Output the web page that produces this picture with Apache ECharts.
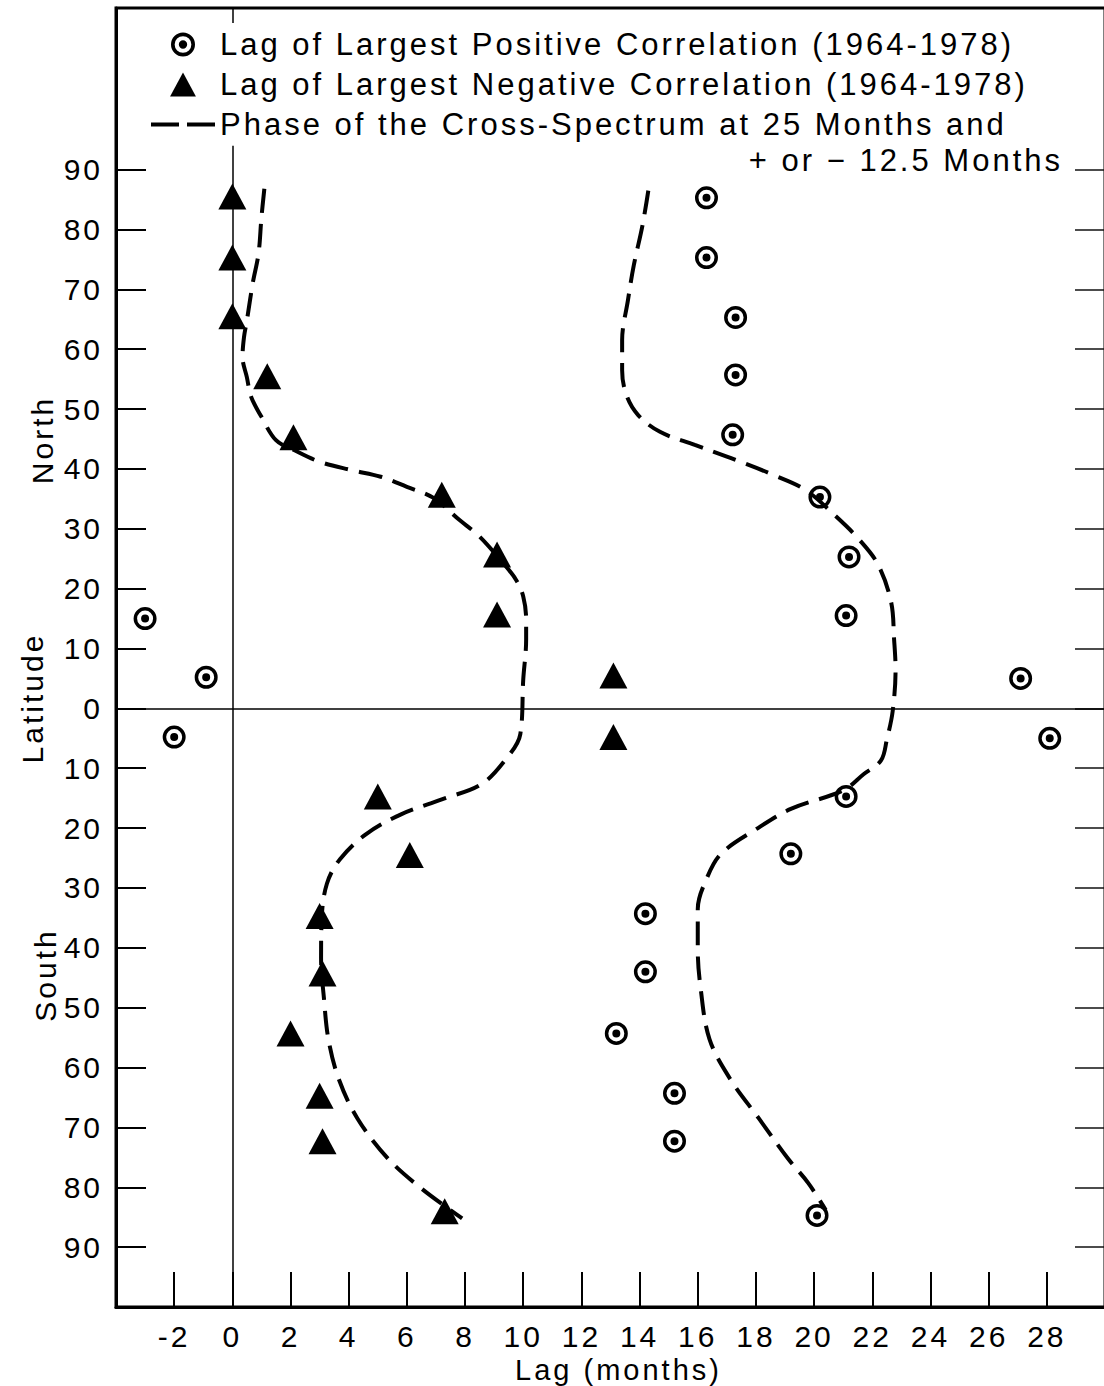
<!DOCTYPE html>
<html>
<head>
<meta charset="utf-8">
<script src="https://cdn.jsdelivr.net/npm/echarts@6/dist/echarts.min.js"></script>
<style>
html,body{margin:0;padding:0;background:#fff;}
#chart{width:1104px;height:1386px;}
#chart svg text{letter-spacing:3px;}
</style>
</head>
<body>
<div id="chart"></div>
<script>
// ---- data ----
const posName = 'Lag of Largest Positive Correlation (1964-1978)';
const negName = 'Lag of Largest Negative Correlation (1964-1978)';
const phaseName = 'Phase of the Cross-Spectrum at 25 Months and';
const phaseName2 = '+ or \u2212 12.5 Months';

const posLag = [16.3, 16.3, 17.3, 17.3, 17.2, 20.2, 21.2, 21.1, -3.0, -0.9, -2.0, 27.1, 28.1, 21.1, 19.2, 14.2, 14.2, 13.2, 15.2, 15.2, 20.1];
const posLat = [85.3, 75.3, 65.3, 55.7, 45.7, 35.3, 25.3, 15.5, 15.0, 5.2, -4.8, 5.0, -5.0, -14.7, -24.3, -34.3, -44.0, -54.3, -64.3, -72.3, -84.7];

const negLag = [0, 0, 0, 1.2, 2.1, 7.2, 9.1, 9.1, 13.1, 13.1, 5.0, 6.1, 3.0, 3.1, 2.0, 3.0, 3.1, 7.3];
const negLat = [85.5, 75.3, 65.5, 55.5, 45.3, 35.7, 25.7, 15.7, 5.5, -4.8, -14.7, -24.5, -34.7, -44.3, -54.3, -64.7, -72.3, -84.0];

const phaseLeftLag = [1.1, 1.0, 0.9, 0.7, 0.5, 0.4, 0.35, 0.5, 0.65, 1.0, 1.5, 2.1, 3.0, 4.1, 5.1, 6.0, 6.9, 7.8, 8.5, 9.3, 9.75, 10.0, 10.1, 10.1, 10.0, 9.9, 9.4, 8.55, 7.2, 5.8, 4.6, 3.7, 3.25, 3.07, 3.05, 3.15, 3.3, 3.65, 4.3, 5.35, 6.5, 7.9];
const phaseLeftLat = [86.8, 82, 76, 71, 64.8, 62, 58.7, 55.3, 52, 48.7, 44.8, 43.2, 41.2, 39.8, 38.7, 37, 35.2, 31.5, 28.7, 24.3, 21.5, 18.7, 14.8, 11.5, 4.8, -4.3, -8.5, -12.7, -15.2, -17.7, -21, -25.2, -29.3, -35.2, -41.8, -48.5, -55.2, -61.8, -68.5, -75.2, -80.2, -85.2];

const phaseRightLag = [14.3, 14.1, 13.8, 13.6, 13.4, 13.4, 13.55, 13.95, 14.7, 15.9, 17.3, 18.6, 19.7, 20.7, 21.55, 22.2, 22.65, 22.75, 22.8, 22.7, 22.5, 22.3, 21.7, 21.0, 19.2, 18.0, 16.8, 16.3, 16.0, 16.0, 16.1, 16.4, 17.1, 18.1, 19.1, 19.8, 20.4];
const phaseRightLat = [86.5, 80.7, 74, 68.2, 61.5, 56.5, 52.3, 49, 46.2, 44, 41.5, 39, 36.5, 32.3, 28.2, 24, 17.7, 11.5, 6.5, -0.5, -5.2, -8.7, -11, -13.7, -16.8, -20.2, -24.3, -28.5, -33.5, -40.2, -46.8, -55.2, -61.8, -68.5, -75.2, -79.3, -83.8];

const xTickValues = [-2, 0, 2, 4, 6, 8, 10, 12, 14, 16, 18, 20, 22, 24, 26, 28];
const yTickValues = [-90, -80, -70, -60, -50, -40, -30, -20, -10, 0, 10, 20, 30, 40, 50, 60, 70, 80, 90];
const xName = 'Lag (months)';
const yName = 'Latitude';
const northText = 'North';
const southText = 'South';

// ---- chart ----
const FONT = 'Liberation Sans, Arial, Helvetica, sans-serif';
const ringPath = 'path://M0.5 12A11.5 11.5 0 1 1 23.5 12A11.5 11.5 0 1 1 0.5 12ZM4 12A8 8 0 1 0 20 12A8 8 0 1 0 4 12ZM8 12A4 4 0 1 1 16 12A4 4 0 1 1 8 12Z';
const triPath = 'path://M14 0L28 26L0 26Z';
const dashIcon = 'path://M0 0H28V4H0ZM36 0H64V4H36Z';

const zip = (a, b) => a.map((v, i) => [v, b[i]]);
const dashStyle = {color: '#000', width: 4, type: [24, 11]};

const chart = echarts.init(document.getElementById('chart'), null, {renderer: 'svg', width: 1104, height: 1386});

chart.setOption({
  animation: false,
  backgroundColor: '#fff',
  color: ['#000'],
  textStyle: {fontFamily: FONT, color: '#000'},
  grid: {left: 116, right: -1, top: 8, bottom: 79, show: true, borderColor: '#000', borderWidth: 3, containLabel: false, outerBoundsMode: 'none'},
  legend: {
    orient: 'vertical', left: 146, top: 24,
    itemWidth: 64, itemHeight: 24, itemGap: 9,
    selectedMode: false,
    textStyle: {fontSize: 31, lineHeight: 31, color: '#000', fontFamily: FONT},
    data: [
      {name: posName, icon: ringPath, itemStyle: {color: '#000', opacity: 1}},
      {name: negName, icon: triPath, itemStyle: {color: '#000', opacity: 1}},
      {name: phaseName, icon: dashIcon, itemStyle: {color: '#000', opacity: 1}}
    ]
  },
  xAxis: {
    type: 'value', min: -4, max: 30, position: 'bottom',
    axisLine: {show: true, onZero: false, lineStyle: {color: '#000', width: 3}},
    axisTick: {show: true, inside: true, length: 35, customValues: xTickValues, lineStyle: {color: '#000', width: 2}},
    axisLabel: {customValues: xTickValues, fontSize: 30, color: '#000', margin: 14, fontFamily: FONT},
    splitLine: {show: false},
    name: xName, nameLocation: 'middle', nameGap: 46,
    nameTextStyle: {fontSize: 29, color: '#000', fontFamily: FONT, padding: [0, 0, 0, 16]}
  },
  yAxis: [
    {
      type: 'value', min: -100, max: 117, position: 'left',
      axisLine: {show: true, onZero: false, lineStyle: {color: '#000', width: 3}},
      axisTick: {show: true, inside: true, length: 30, customValues: yTickValues, lineStyle: {color: '#000', width: 2}},
      axisLabel: {customValues: yTickValues, formatter: v => String(Math.abs(v)), fontSize: 30, color: '#000', margin: 13, fontFamily: FONT},
      splitLine: {show: false}
    },
    {
      type: 'value', min: -100, max: 117, position: 'right',
      axisLine: {show: false, onZero: false},
      axisTick: {show: true, inside: true, length: 30, customValues: yTickValues, lineStyle: {color: '#111', width: 1.5}},
      axisLabel: {show: false},
      splitLine: {show: false}
    }
  ],
  graphic: [
    {type: 'text', x: 1063, y: 160, style: {text: phaseName2, fontSize: 31, fill: '#000', fontFamily: FONT, align: 'right', textAlign: 'right', verticalAlign: 'middle', textVerticalAlign: 'middle'}},
    {type: 'text', x: 42, y: 440, rotation: Math.PI / 2, style: {text: northText, fontSize: 30, fill: '#000', fontFamily: FONT, align: 'center', textAlign: 'center', verticalAlign: 'middle', textVerticalAlign: 'middle'}},
    {type: 'text', x: 32, y: 698, rotation: Math.PI / 2, style: {text: yName, fontSize: 30, fill: '#000', fontFamily: FONT, align: 'center', textAlign: 'center', verticalAlign: 'middle', textVerticalAlign: 'middle'}},
    {type: 'text', x: 45, y: 975, rotation: Math.PI / 2, style: {text: southText, fontSize: 30, fill: '#000', fontFamily: FONT, align: 'center', textAlign: 'center', verticalAlign: 'middle', textVerticalAlign: 'middle'}}
  ],
  series: [
    {
      name: phaseName, type: 'line', data: zip(phaseLeftLag, phaseLeftLat),
      symbol: 'none', smooth: 0.35, lineStyle: dashStyle, itemStyle: {color: '#000'}, z: 2, silent: true,
      markLine: {
        silent: true, symbol: 'none', label: {show: false},
        lineStyle: {color: '#000', width: 1.5, type: 'solid', opacity: 1},
        data: [
          [{coord: [0, 117]}, {coord: [0, 114.5]}],
          [{coord: [0, 94]}, {coord: [0, -100]}],
          [{coord: [-4, 0]}, {coord: [30, 0]}]
        ]
      }
    },
    {
      name: phaseName, type: 'line', data: zip(phaseRightLag, phaseRightLat),
      symbol: 'none', smooth: 0.35, lineStyle: dashStyle, itemStyle: {color: '#000'}, z: 2, silent: true
    },
    {
      name: posName, type: 'scatter', data: zip(posLag, posLat),
      symbol: ringPath, symbolSize: 23, itemStyle: {color: '#000', opacity: 1}, z: 5
    },
    {
      name: negName, type: 'scatter', data: zip(negLag, negLat),
      symbol: triPath, symbolSize: [28, 26], itemStyle: {color: '#000', opacity: 1}, z: 5
    }
  ]
});
</script>
</body>
</html>
